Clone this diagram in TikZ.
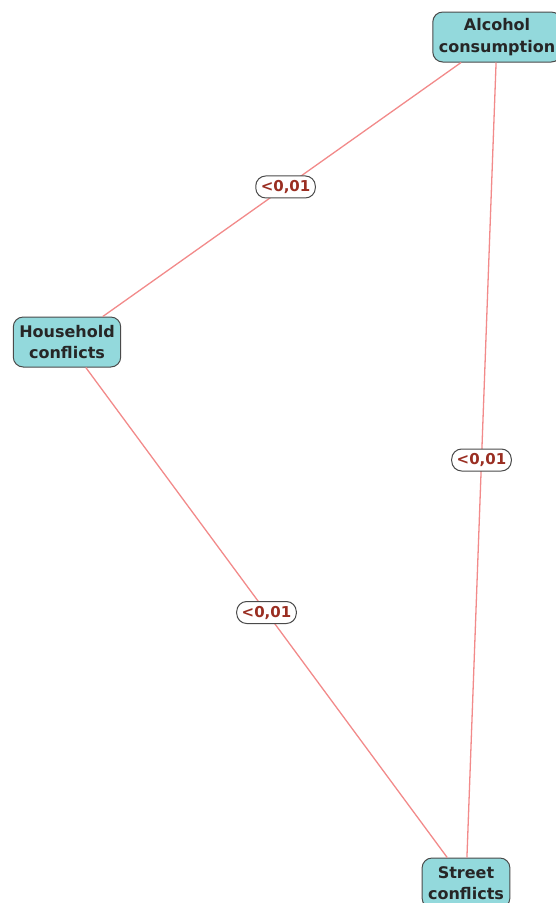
\documentclass[tikz,border=0pt]{standalone}
\usepackage{fontspec}
\setmainfont{DejaVu Sans}
\usetikzlibrary{positioning}

\definecolor{boxfill}{HTML}{93D9DC}
\definecolor{boxline}{HTML}{4A4A4A}
\definecolor{edgered}{HTML}{F28A8A}
\definecolor{pvalred}{HTML}{9A2E22}

\begin{document}
\begin{tikzpicture}[
    x=1pt, y=-1pt,
    every node/.style={align=center},
    factor/.style={rounded corners=10pt, draw=boxline, line width=1pt, fill=boxfill,
        inner xsep=6pt, inner ysep=5pt, minimum height=50pt, text=black!85,
        font=\fontsize{16}{21.5}\selectfont\bfseries},
    link/.style={draw=edgered, line width=1.3pt},
    pval/.style={rounded corners=10pt, draw=boxline, line width=1pt, fill=white,
        inner xsep=5pt, inner ysep=3pt, minimum height=22pt, text=pvalred,
        font=\fontsize{15}{16}\selectfont\bfseries}
]
\useasboundingbox (0,0) rectangle (555,903);

% --- Nodes ---
\node[factor] (alcohol) at (497,37) {Alcohol\\consumption};
\node[factor] (household) at (67,342) {Household\\conflicts};
\node[factor] (street) at (466,883) {Street\\conflicts};

% --- Links ---
\draw[link] (alcohol) -- node[pval, pos=0.49] (pah) {<0,01} (household);
\draw[link] (alcohol) -- node[pval, pos=0.5] (pas) {<0,01} (street);
\draw[link] (household) -- node[pval, pos=0.5] (phs) {<0,01} (street);

\end{tikzpicture}
\end{document}
